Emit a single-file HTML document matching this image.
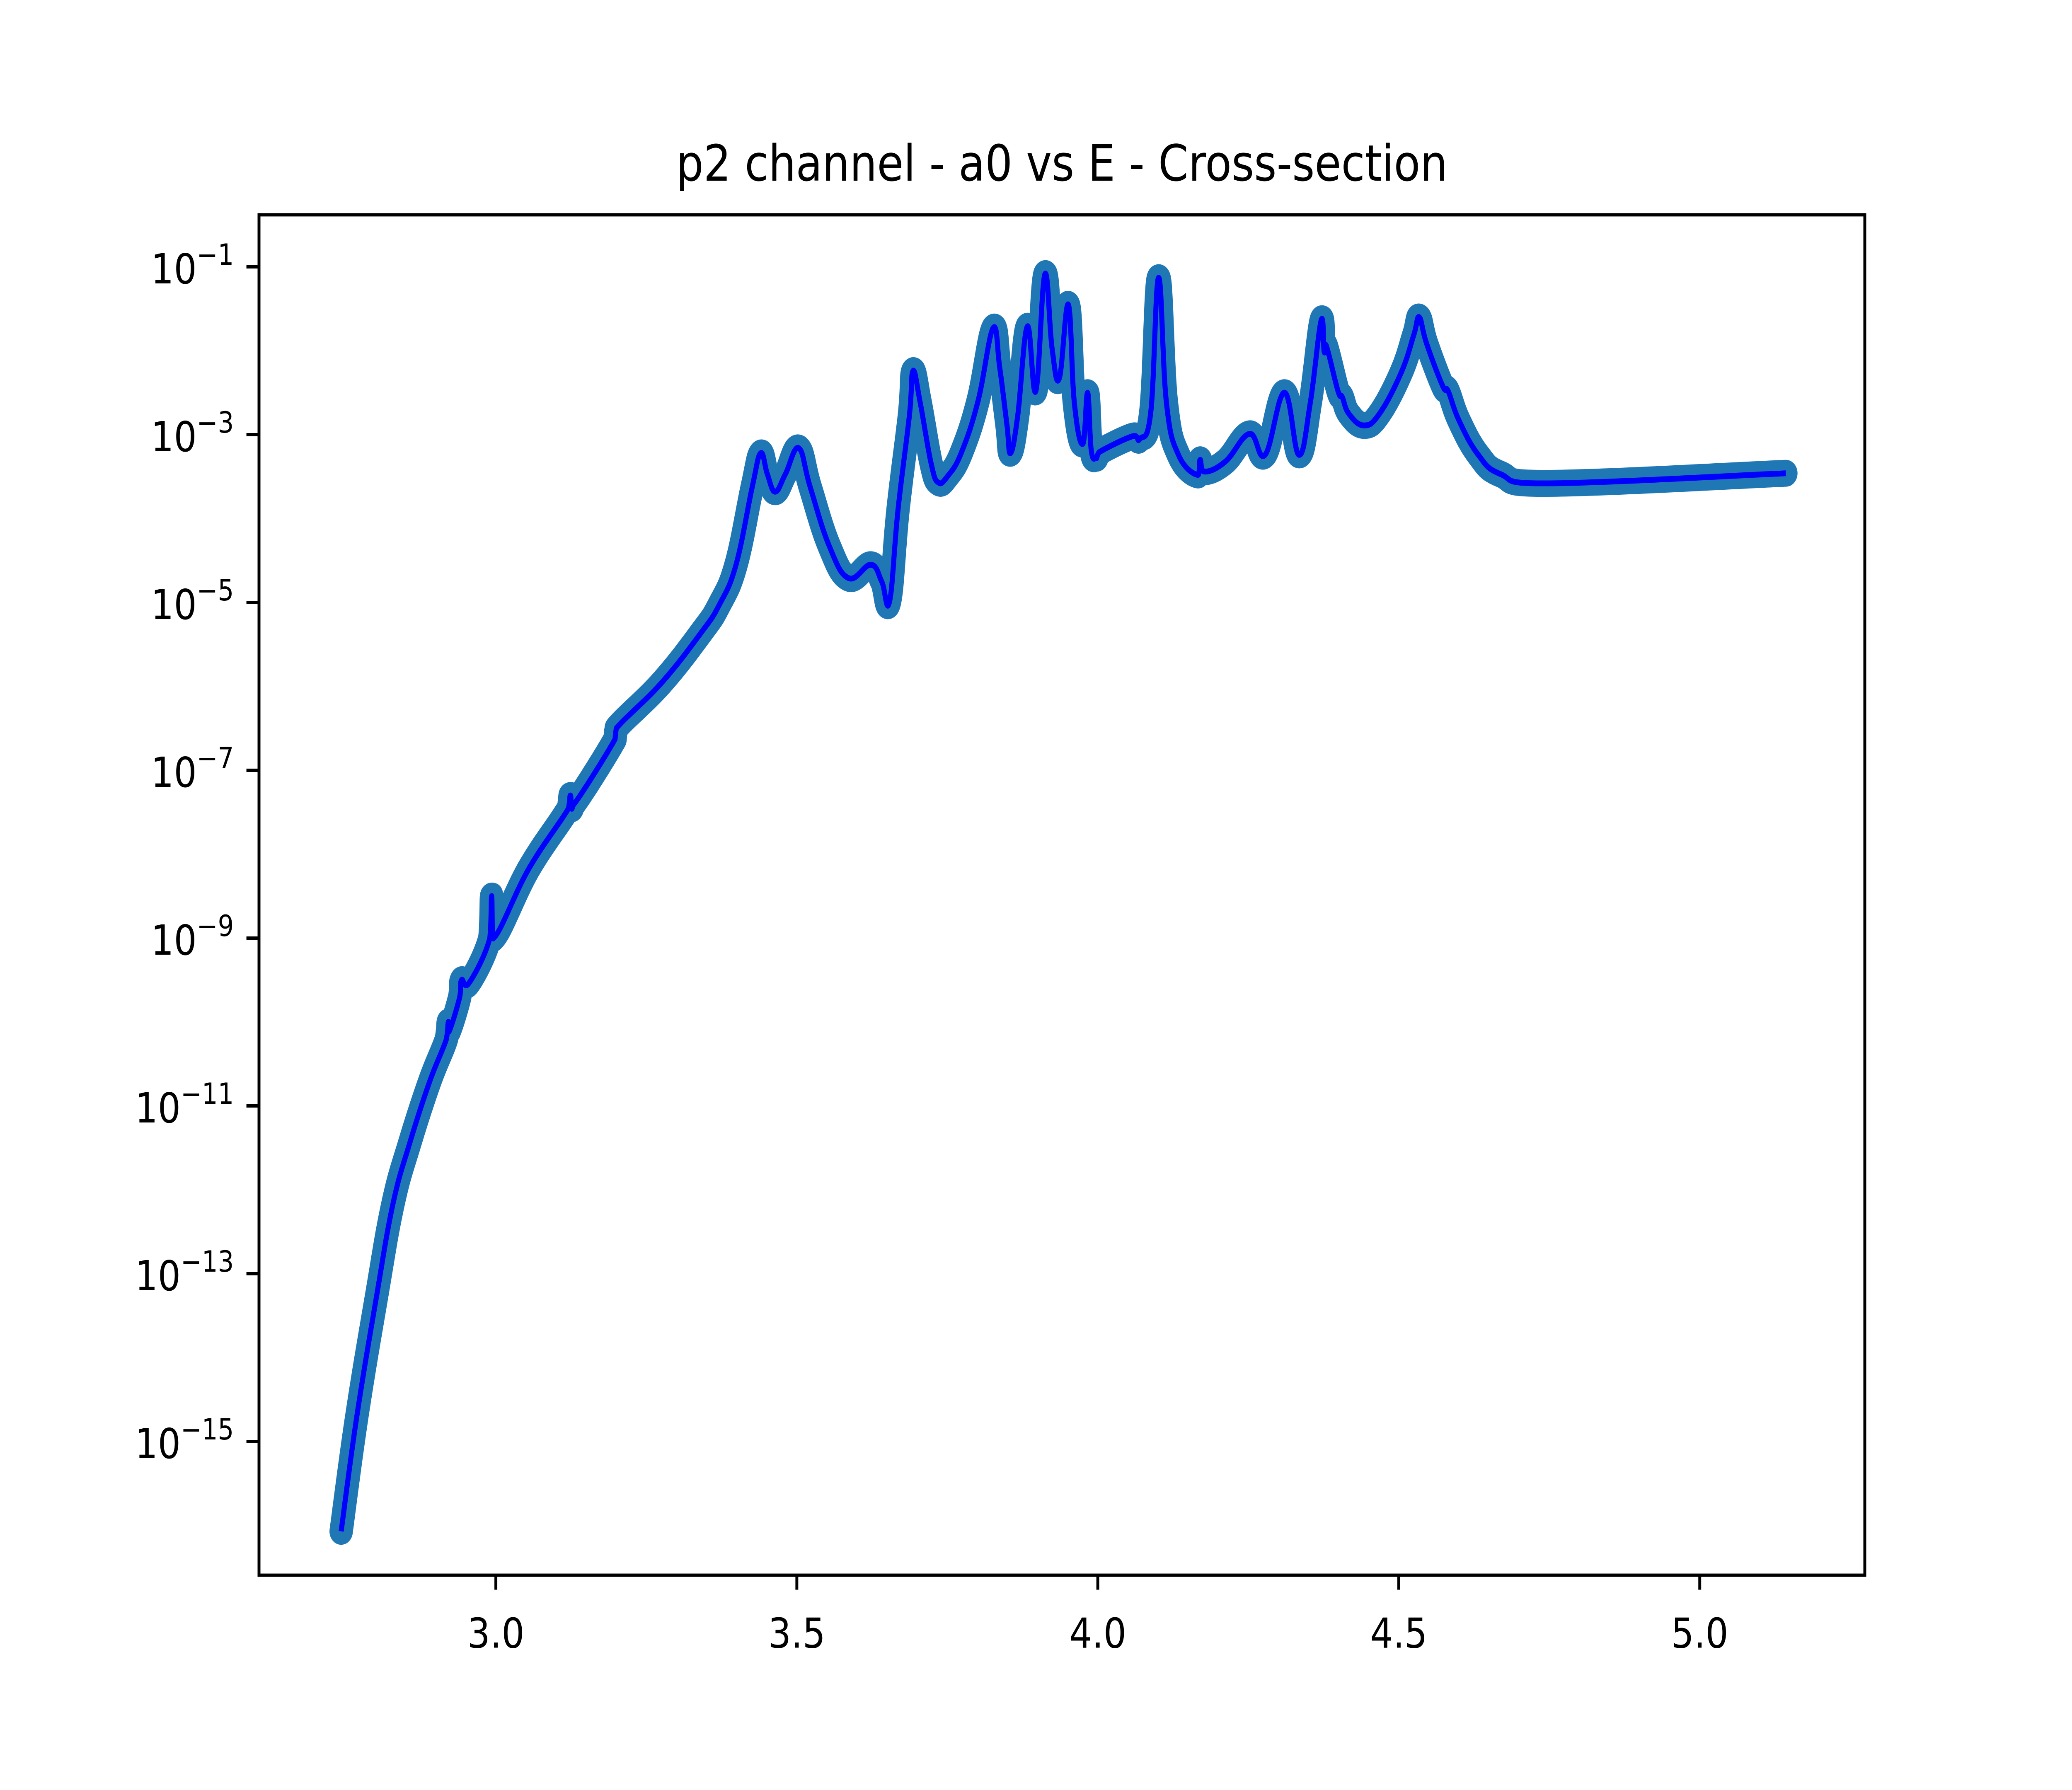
<!DOCTYPE html>
<html><head><meta charset="utf-8"><style>html,body{margin:0;padding:0;background:#fff;width:100%;height:100%;overflow:hidden}svg{display:block;width:100vw;height:100vh}</style></head>
<body>
<svg id="chart" viewBox="0 0 576 432" preserveAspectRatio="none" xmlns="http://www.w3.org/2000/svg" font-family="DejaVu Sans, Liberation Sans, sans-serif">
<rect x="0" y="0" width="576" height="432" fill="#fff"/>
<text x="295.2" y="43.6" font-size="12" text-anchor="middle">p2 channel - a0 vs E - Cross-section</text>
<g id="plot"></g>
<rect x="72" y="51.84" width="446.4" height="328.32" fill="none" stroke="#000" stroke-width="0.8"/>
<g id="axes"></g>
</svg>
<script>
const energies = [2.743,2.769,2.802,2.829,2.857,2.89,2.918,2.921,2.923,2.94,2.943,2.956,2.99,2.993,2.996,3.055,3.121,3.124,3.128,3.198,3.2,3.275,3.341,3.371,3.399,3.426,3.44,3.451,3.464,3.481,3.503,3.522,3.554,3.586,3.623,3.641,3.654,3.668,3.687,3.693,3.705,3.723,3.735,3.751,3.773,3.801,3.826,3.837,3.849,3.855,3.867,3.883,3.897,3.912,3.924,3.936,3.951,3.961,3.975,3.983,3.989,3.997,4.002,4.057,4.07,4.088,4.101,4.114,4.134,4.166,4.17,4.177,4.212,4.252,4.278,4.31,4.334,4.353,4.371,4.376,4.38,4.399,4.406,4.417,4.442,4.468,4.504,4.525,4.534,4.546,4.573,4.582,4.6,4.632,4.669,4.746,5.143];
const logSigma = [-16.07,-14.7,-13.26,-12.17,-11.44,-10.71,-10.2,-10.0,-10.1,-9.7,-9.5,-9.53,-9.0,-8.5,-9.0,-8.17,-7.45,-7.3,-7.42,-6.63,-6.5,-5.96,-5.36,-5.03,-4.55,-3.62,-3.22,-3.47,-3.68,-3.47,-3.16,-3.62,-4.33,-4.71,-4.55,-4.75,-4.99,-3.9,-2.77,-2.24,-2.62,-3.34,-3.57,-3.49,-3.22,-2.6,-1.73,-2.2,-2.88,-3.22,-2.77,-1.71,-2.48,-1.09,-1.97,-2.33,-1.45,-2.62,-3.11,-2.5,-3.18,-3.28,-3.21,-3.02,-3.05,-2.73,-1.13,-2.62,-3.24,-3.48,-3.3,-3.44,-3.32,-2.99,-3.24,-2.5,-3.24,-2.62,-1.64,-2.01,-1.95,-2.48,-2.55,-2.75,-2.89,-2.75,-2.26,-1.81,-1.6,-1.91,-2.42,-2.48,-2.83,-3.24,-3.47,-3.58,-3.46];
const xTicks = [3.0,3.5,4.0,4.5,5.0];
const xTickLabels = ["3.0","3.5","4.0","4.5","5.0"];
const yTickExps = [-1,-3,-5,-7,-9,-11,-13,-15];

const X0=72,X1=518.4,Y0=51.84,Y1=380.16;
const xMin=2.6065,xMax=5.2742,lMin=-16.593,lMax=-0.3797;
function xs(v){return X0+(v-xMin)/(xMax-xMin)*(X1-X0);}
function ys(l){return Y1-(l-lMin)/(lMax-lMin)*(Y1-Y0);}
const NS="http://www.w3.org/2000/svg";
const plot=document.getElementById('plot'),axes=document.getElementById('axes');
const P=energies.map((e,i)=>[xs(e),ys(logSigma[i])]);
let d="M"+P[0][0].toFixed(2)+","+P[0][1].toFixed(2);
for(let i=0;i<P.length-1;i++){
  const p0=P[Math.max(0,i-1)],p1=P[i],p2=P[i+1],p3=P[Math.min(P.length-1,i+2)];
  const t=0.2;
  const c1=[p1[0]+(p2[0]-p0[0])*t,p1[1]+(p2[1]-p0[1])*t];
  const c2=[p2[0]-(p3[0]-p1[0])*t,p2[1]-(p3[1]-p1[1])*t];
  c1[0]=Math.min(Math.max(c1[0],p1[0]),p2[0]);c2[0]=Math.min(Math.max(c2[0],p1[0]),p2[0]);
  d+="C"+c1[0].toFixed(2)+","+c1[1].toFixed(2)+" "+c2[0].toFixed(2)+","+c2[1].toFixed(2)+" "+p2[0].toFixed(2)+","+p2[1].toFixed(2);
}
const outer=document.createElementNS(NS,'path');


outer.setAttribute('d',d);outer.setAttribute('fill','none');outer.setAttribute('stroke','#1f77b4');outer.setAttribute('stroke-width','6.5');outer.setAttribute('stroke-linejoin','round');outer.setAttribute('stroke-linecap','round');
plot.appendChild(outer);
const inner=document.createElementNS(NS,'path');


inner.setAttribute('d',d);inner.setAttribute('fill','none');inner.setAttribute('stroke','#0000ff');inner.setAttribute('stroke-width','1.4');inner.setAttribute('stroke-linejoin','round');
plot.appendChild(inner);
xTicks.forEach((t,i)=>{
  const x=xs(t);
  const ln=document.createElementNS(NS,'line');
  
  
  ln.setAttribute('x1',x);ln.setAttribute('x2',x);ln.setAttribute('y1',Y1);ln.setAttribute('y2',Y1+3.5);ln.setAttribute('stroke','#000');ln.setAttribute('stroke-width','0.8');
  axes.appendChild(ln);
  const tx=document.createElementNS(NS,'text');
  
  
  tx.setAttribute('x',x);tx.setAttribute('y',Y1+17.5);tx.setAttribute('font-size','10');tx.setAttribute('text-anchor','middle');tx.textContent=xTickLabels[i];
  axes.appendChild(tx);
});
yTickExps.forEach(e=>{
  const y=ys(e);
  const ln=document.createElementNS(NS,'line');
  
  
  ln.setAttribute('x1',X0-3.5);ln.setAttribute('x2',X0);ln.setAttribute('y1',y);ln.setAttribute('y2',y);ln.setAttribute('stroke','#000');ln.setAttribute('stroke-width','0.8');
  axes.appendChild(ln);
  const tx=document.createElementNS(NS,'text');
  
  
  tx.setAttribute('x',X0-7);tx.setAttribute('y',y+4);tx.setAttribute('font-size','10');tx.setAttribute('text-anchor','end');
  const b=document.createElementNS(NS,'tspan');b.textContent='10';tx.appendChild(b);
  const s=document.createElementNS(NS,'tspan');s.setAttribute('dy','-4.5');s.setAttribute('font-size','7');s.textContent='\u2212'+Math.abs(e);tx.appendChild(s);
  axes.appendChild(tx);
});
</script>
</body></html>
